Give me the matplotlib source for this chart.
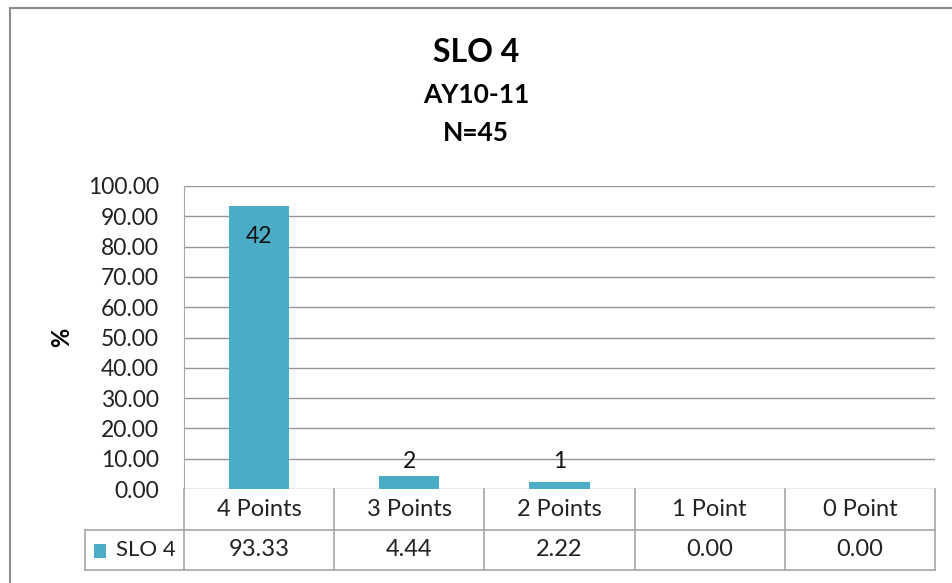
import matplotlib
matplotlib.use('Agg')
from matplotlib import pyplot as plt
from matplotlib.patches import Rectangle
from matplotlib.transforms import blended_transform_factory

# chart data
categories = ['4 Points', '3 Points', '2 Points', '1 Point', '0 Point']
percents = [93.33, 4.44, 2.22, 0.00, 0.00]
counts = [42, 2, 1, 0, 0]
series_name = 'SLO 4'
title_lines = ['SLO 4', 'AY10-11', 'N=45']

bar_color = '#4BACC6'
grid_color = '#949494'
table_color = '#a6a6a6'
text_color = '#222222'

plt.rcParams['font.family'] = ['Lato', 'DejaVu Sans']

fig = plt.figure(figsize=(9.52, 5.83), dpi=100)
W, H = 952, 583
ax = fig.add_axes([184 / W, 1 - 489 / H, 751 / W, 303 / H])

x = list(range(len(categories)))
ax.bar(x, percents, width=0.4, color=bar_color, zorder=3)
ax.set_xlim(-0.5, len(categories) - 0.5)
ax.set_ylim(0, 100)
ax.set_yticks(range(0, 101, 10))
ax.set_yticklabels([f'{v:.2f}' for v in range(0, 101, 10)], fontsize=16.5, color=text_color)
ax.tick_params(axis='y', length=0, pad=18)
ax.set_xticks([])
ax.grid(axis='y', color=grid_color, linewidth=1, zorder=0)
for side in ['top', 'right', 'bottom']:
    ax.spines[side].set_visible(False)
ax.spines['left'].set_color(table_color)

# count labels (inside for big bar, above for small ones)
for xi, p, c in zip(x, percents, counts):
    if c == 0:
        continue
    y = p - 10 if p > 20 else 9
    ax.text(xi, y, str(c), ha='center', va='center', fontsize=16.5, color='#111111', zorder=4)

ax.set_ylabel('%', fontsize=17, fontweight='bold')
ax.yaxis.set_label_coords(-0.148, 0.5)

# data table under the axis: x in data units, y in axes units
tr = blended_transform_factory(ax.transData, ax.transAxes)
row1 = -41 / 303
row2 = -81 / 303
left = -0.5 - 99 / 150.2
right = len(categories) - 0.5
lines = [
    ([-0.5, right], [row1, row1]),
    ([left, right], [row2, row2]),
    ([left, -0.5], [row1, row1]),
    ([left, left], [row1, row2]),
]
for k in range(len(categories) + 1):
    lines.append(([k - 0.5, k - 0.5], [0, row2]))
for xs, ys in lines:
    ax.plot(xs, ys, color=table_color, linewidth=1.2, transform=tr, clip_on=False)

for xi, cat, p in zip(x, categories, percents):
    ax.text(xi, row1 / 2, cat, ha='center', va='center', fontsize=17, color=text_color,
            transform=tr, clip_on=False)
    ax.text(xi, (row1 + row2) / 2, f'{p:.2f}', ha='center', va='center', fontsize=17,
            color=text_color, transform=tr, clip_on=False)
ax.text(-0.5 - 8 / 150.2, (row1 + row2) / 2, series_name, ha='right', va='center', fontsize=16,
        color=text_color, transform=tr, clip_on=False)

# legend key in the row label cell
fig.patches.append(Rectangle((94 / W, 1 - 558 / H), 12 / W, 14 / H, transform=fig.transFigure,
                             facecolor=bar_color, edgecolor='none'))

# titles
fig.text(0.5, 1 - 52 / H, title_lines[0], ha='center', va='center', fontsize=23, fontweight='bold')
fig.text(0.5, 1 - 95 / H, title_lines[1], ha='center', va='center', fontsize=19, fontweight='bold')
fig.text(0.5, 1 - 133 / H, title_lines[2], ha='center', va='center', fontsize=19, fontweight='bold')

# chart frame
fig.patches.append(Rectangle((10 / W, -0.1), 1.2, 1 - 8 / H + 0.1, transform=fig.transFigure,
                             facecolor='none', edgecolor='#8c8c8c', linewidth=1.5))

fig.savefig('out.png', dpi=100)
